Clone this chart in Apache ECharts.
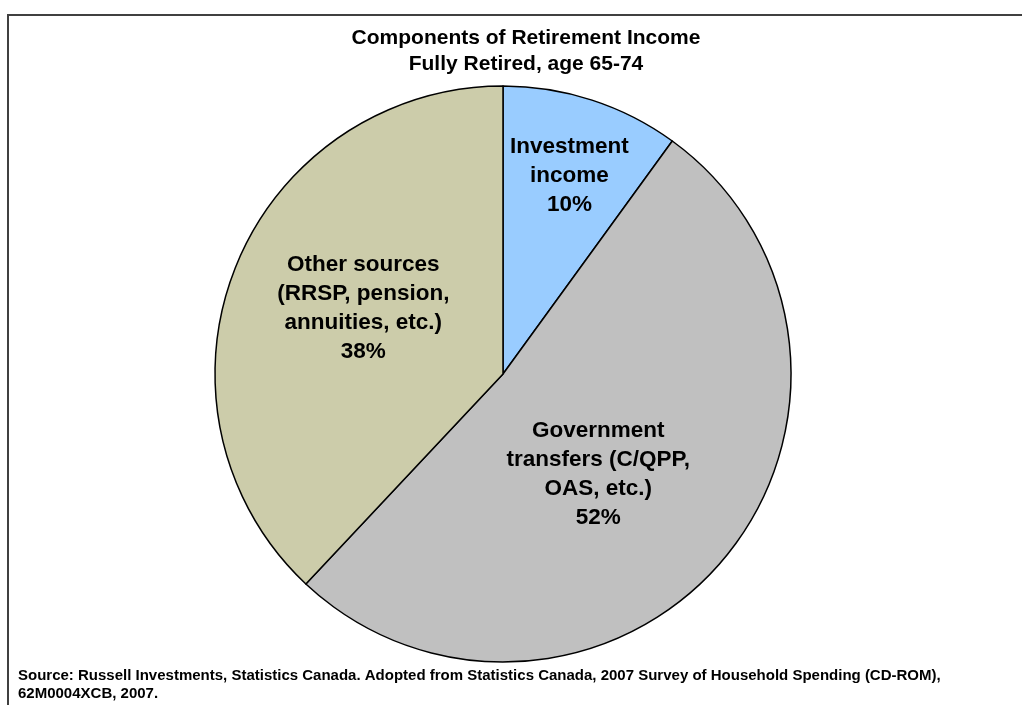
<!DOCTYPE html>
<html>
<head>
<meta charset="utf-8">
<script src="https://cdn.jsdelivr.net/npm/echarts@6/dist/echarts.min.js"></script>
<style>
  html, body { margin: 0; padding: 0; background: #fff; }
  #chart { width: 1022px; height: 705px; }
</style>
</head>
<body>
<div id="chart"></div>
<script>
// Income components for retirees aged 65-74
const categories = [
  'Investment\nincome',
  'Government\ntransfers (C/QPP,\nOAS, etc.)',
  'Other sources\n(RRSP, pension,\nannuities, etc.)'
];
const shares = [10, 52, 38];
const sliceColors = ['#99CCFF', '#C0C0C0', '#CCCCAA'];
// shift of each label from the slice's default inside spot
const labelShifts = [[21, -58], [-18, 7], [-3, -12]];

const titleLines = ['Components of Retirement Income', 'Fully Retired, age 65-74'];
const sourceLines = [
  'Source: Russell Investments, Statistics Canada. Adopted from Statistics Canada, 2007 Survey of Household Spending (CD-ROM),',
  '62M0004XCB, 2007.'
];

const fontFamily = '"Liberation Sans", Arial, Helvetica, sans-serif';

const chart = echarts.init(document.getElementById('chart'));
chart.setOption({
  animation: false,
  backgroundColor: '#ffffff',
  title: {
    text: titleLines.join('\n'),
    left: 521,
    textAlign: 'center',
    top: 20,
    textStyle: {
      fontFamily: fontFamily,
      fontWeight: 'bold',
      fontSize: 21,
      lineHeight: 26,
      color: '#000'
    }
  },
  graphic: [
    {
      type: 'rect',
      shape: { x: 8, y: 15, width: 1060, height: 760 },
      style: { fill: null, stroke: '#404040', lineWidth: 2 },
      silent: true
    },
    {
      type: 'text',
      left: 18,
      top: 667,
      style: {
        text: sourceLines.join('\n'),
        font: 'bold 15px ' + fontFamily,
        lineHeight: 18,
        fill: '#000'
      }
    }
  ],
  series: [{
    type: 'pie',
    center: [503, 374],
    radius: 288,
    startAngle: 90,
    clockwise: true,
    avoidLabelOverlap: false,
    label: {
      show: true,
      position: 'inside',
      formatter: p => p.name + '\n' + p.value + '%',
      fontFamily: fontFamily,
      fontWeight: 'bold',
      fontSize: 22.5,
      lineHeight: 29,
      color: '#000',
      align: 'center'
    },
    labelLine: { show: false },
    emphasis: { disabled: true },
    itemStyle: { borderColor: '#000', borderWidth: 1.5 },
    data: categories.map((name, i) => ({
      name: name,
      value: shares[i],
      itemStyle: { color: sliceColors[i] },
      label: { offset: labelShifts[i] }
    }))
  }]
});
</script>
</body>
</html>
